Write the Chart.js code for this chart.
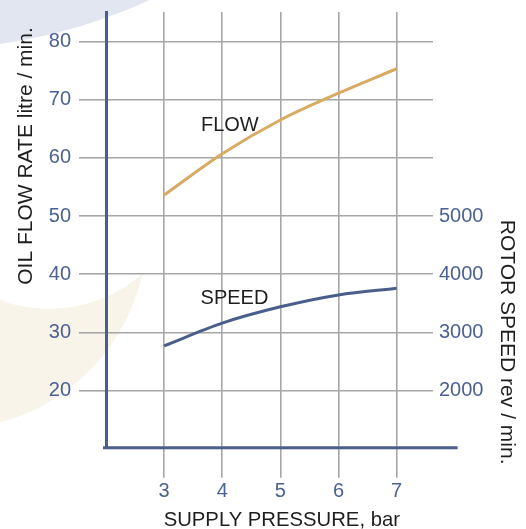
<!DOCTYPE html>
<html>
<head>
<meta charset="utf-8">
<script src="https://cdn.jsdelivr.net/npm/chart.js@4/dist/chart.umd.min.js"></script>
<style>
  html, body { margin: 0; padding: 0; background: #ffffff; }
  #wrap { position: relative; width: 526px; height: 529px; overflow: hidden; }
  #bg { position: absolute; left: 0; top: 0; }
  #c { position: absolute; left: 0; top: 0; }
</style>
</head>
<body>
<div id="wrap">
  <svg id="bg" width="526" height="529" xmlns="http://www.w3.org/2000/svg">
    <circle cx="-51" cy="231" r="198" fill="#f8f4ea"/>
    <circle cx="49.4" cy="169.2" r="139.8" fill="#ffffff"/>
    <circle cx="-75.7" cy="-491.8" r="541" fill="#e2e6f0"/>
  </svg>
  <canvas id="c" width="526" height="529"></canvas>
</div>
<script>
// ---- data ----
const pressure = [3, 4, 5, 6, 7];                 // SUPPLY PRESSURE, bar
const flowRate = [53.6, 60.7, 66.5, 71.1, 75.3];   // litre / min
const rotorSpeed = [2770, 3160, 3440, 3645, 3760]; // rev / min
const xTicks = [3, 4, 5, 6, 7];
const leftTicks = [20, 30, 40, 50, 60, 70, 80];
const rightTicks = [2000, 3000, 4000, 5000];
const seriesNames = ['FLOW', 'SPEED'];
const xTitle = 'SUPPLY PRESSURE, bar';
const leftTitle = 'OIL FLOW RATE litre / min.';
const rightTitle = 'ROTOR SPEED rev / min.';

// ---- styling ----
const FONT = '"Liberation Sans", Arial, Helvetica, sans-serif';
const BLUE = '#4a5e8c';
const TICKBLUE = '#4a6191';
const GRID = '#a6a6a6';
const FLOWC = '#d8aa62';
const TEXT = '#1e1e1e';

// label anchors (data coords) for the in-plot series names
const nameAnchors = { FLOW: [4.13, 65.5, 'y'], SPEED: [4.21, 3580, 'y1'] };

const decor = {
  id: 'decor',
  beforeDatasetsDraw(chart) {
    const { ctx, chartArea, scales } = chart;
    // bottom axis line (extends past the plot to the right)
    ctx.save();
    ctx.strokeStyle = BLUE;
    ctx.lineWidth = 3;
    ctx.beginPath();
    ctx.moveTo(chartArea.left - 3, chartArea.bottom);
    ctx.lineTo(scales.x.getPixelForValue(8.05), chartArea.bottom);
    ctx.stroke();
    ctx.restore();
  },
  afterDraw(chart) {
    const { ctx, chartArea, scales } = chart;
    ctx.save();
    ctx.fillStyle = TEXT;
    ctx.font = '20px ' + FONT;
    // in-plot names
    ctx.textAlign = 'center';
    ctx.textBaseline = 'middle';
    seriesNames.forEach(n => {
      const a = nameAnchors[n];
      ctx.fillText(n, scales.x.getPixelForValue(a[0]), scales[a[2]].getPixelForValue(a[1]));
    });
    // x title
    ctx.textAlign = 'center';
    ctx.textBaseline = 'alphabetic';
    ctx.font = '20.3px ' + FONT;
    ctx.fillText(xTitle, (chartArea.left + scales.x.getPixelForValue(8.05)) / 2, 526);
    ctx.font = '21px ' + FONT;
    // left title
    ctx.save();
    ctx.translate(31.5, scales.y.getPixelForValue(38.2));
    ctx.rotate(-Math.PI / 2);
    ctx.textAlign = 'left';
    ctx.fillText(leftTitle, 0, 0);
    ctx.restore();
    // right title
    ctx.save();
    ctx.translate(501, scales.y.getPixelForValue(49.35));
    ctx.rotate(Math.PI / 2);
    ctx.textAlign = 'left';
    ctx.fillText(rightTitle, 0, 0);
    ctx.restore();
    ctx.restore();
  }
};

new Chart(document.getElementById('c'), {
  type: 'line',
  data: {
    datasets: [
      {
        label: seriesNames[0],
        data: pressure.map((p, i) => ({ x: p, y: flowRate[i] })),
        yAxisID: 'y',
        borderColor: FLOWC,
        borderWidth: 3,
        pointRadius: 0,
        cubicInterpolationMode: 'monotone',
        fill: false
      },
      {
        label: seriesNames[1],
        data: pressure.map((p, i) => ({ x: p, y: rotorSpeed[i] })),
        yAxisID: 'y1',
        borderColor: BLUE,
        borderWidth: 3,
        pointRadius: 0,
        cubicInterpolationMode: 'monotone',
        fill: false
      }
    ]
  },
  options: {
    responsive: false,
    animation: false,
    events: [],
    layout: { padding: { top: 12, left: 0, right: 0, bottom: 0 } },
    plugins: { legend: { display: false }, tooltip: { enabled: false } },
    scales: {
      x: {
        type: 'linear',
        min: 2,
        max: 7.626,
        afterBuildTicks: s => { s.ticks = xTicks.map(v => ({ value: v })); },
        afterFit: s => { s.height = 81.3; s.paddingLeft = 0; s.paddingRight = 0; },
        grid: { color: GRID, lineWidth: 1.6, tickLength: 30, tickColor: GRID },
        border: { display: false },
        ticks: { color: TICKBLUE, font: { family: FONT, size: 20 }, padding: 2, maxRotation: 0 }
      },
      y: {
        position: 'left',
        min: 10.2,
        max: 85.05,
        afterBuildTicks: s => { s.ticks = leftTicks.map(v => ({ value: v })); },
        afterFit: s => { s.width = 106; s.paddingTop = 0; s.paddingBottom = 0; },
        grid: { color: GRID, lineWidth: 1.6, tickLength: 27, tickColor: GRID },
        border: { display: true, color: BLUE, width: 3 },
        ticks: { color: TICKBLUE, font: { family: FONT, size: 20 }, padding: 8 }
      },
      y1: {
        position: 'right',
        min: 1020,
        max: 8505,
        afterBuildTicks: s => { s.ticks = rightTicks.map(v => ({ value: v })); },
        afterFit: s => { s.width = 93; s.paddingTop = 0; s.paddingBottom = 0; },
        grid: { display: false, drawTicks: false },
        border: { display: false },
        ticks: {
          color: TICKBLUE, font: { family: FONT, size: 20 }, padding: 6,
          callback: v => String(v)
        }
      }
    }
  },
  plugins: [decor]
});
</script>
</body>
</html>
